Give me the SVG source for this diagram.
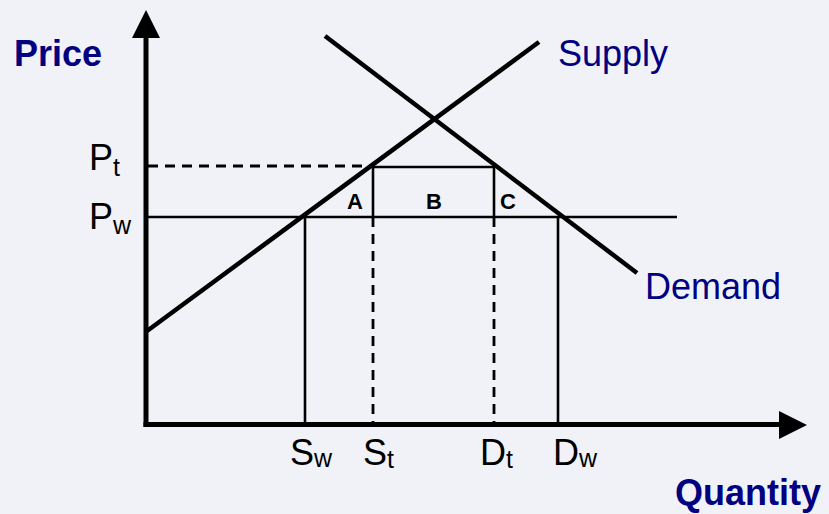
<svg xmlns="http://www.w3.org/2000/svg" width="829" height="514" viewBox="0 0 829 514">
<style>
.axis{stroke:#000;stroke-width:5;fill:none}
.curve{stroke:#000;stroke-width:4.5;fill:none;stroke-linecap:butt}
.thin{stroke:#000;stroke-width:2.6;fill:none}
.dash{stroke:#000;stroke-width:2.8;fill:none;stroke-dasharray:10 7}
.title{font-family:"Liberation Sans",Arial,sans-serif;font-size:36px;font-weight:bold;fill:#000080}
.curvelbl{font-family:"Liberation Sans",Arial,sans-serif;font-size:36px;fill:#000080}
.tick{font-family:"Liberation Sans",Arial,sans-serif;font-size:36px;fill:#000}
.sub{font-size:25px}
.area{font-family:"Liberation Sans",Arial,sans-serif;font-size:22px;font-weight:bold;fill:#000;text-anchor:middle}
</style>
<rect width="829" height="514" fill="#f0f2f8"/>
<g id="connectors">
  <g id="axes">
    <line class="axis" x1="146" y1="36" x2="146" y2="427"/>
    <polygon points="146,10 132,38 160,38" fill="#000"/>
    <line class="axis" x1="143.5" y1="424.5" x2="781" y2="424.5"/>
    <polygon points="807,425 779,411 779,439" fill="#000"/>
  </g>
  <g id="guides">
    <line class="dash" x1="148" y1="166" x2="372" y2="166"/>
    <line class="thin" x1="372" y1="167" x2="494" y2="167"/>
    <line class="thin" x1="148" y1="217" x2="677" y2="217"/>
    <line class="thin" x1="305" y1="217" x2="305" y2="423"/>
    <line class="thin" x1="373" y1="166" x2="373" y2="217"/>
    <line class="dash" x1="373" y1="217" x2="373" y2="423"/>
    <line class="thin" x1="494" y1="166" x2="494" y2="217"/>
    <line class="dash" x1="494" y1="217" x2="494" y2="423"/>
    <line class="thin" x1="558" y1="217" x2="558" y2="423"/>
  </g>
  <line id="supply-line" class="curve" x1="147" y1="331" x2="539" y2="42"/>
  <line id="demand-line" class="curve" x1="325" y1="36" x2="637" y2="273"/>
</g>
<g id="price-label"><text class="title" x="14" y="66">Price</text></g>
<g id="quantity-label"><text class="title" x="675" y="505">Quantity</text></g>
<g id="supply"><text class="curvelbl" x="558" y="66">Supply</text></g>
<g id="demand"><text class="curvelbl" x="645" y="299">Demand</text></g>
<g id="pt"><text class="tick" x="89" y="170">P<tspan class="sub" dy="6">t</tspan></text></g>
<g id="pw"><text class="tick" x="89" y="229">P<tspan class="sub" dy="5">w</tspan></text></g>
<g id="sw"><text class="tick" x="290" y="465">S<tspan class="sub" dy="2">w</tspan></text></g>
<g id="st"><text class="tick" x="363" y="465">S<tspan class="sub" dy="3">t</tspan></text></g>
<g id="dt"><text class="tick" x="480" y="465">D<tspan class="sub" dy="3">t</tspan></text></g>
<g id="dw"><text class="tick" x="553" y="465">D<tspan class="sub" dy="2">w</tspan></text></g>
<g id="area-a"><text class="area" x="355" y="209">A</text></g>
<g id="area-b"><text class="area" x="434" y="209">B</text></g>
<g id="area-c"><text class="area" x="508" y="209">C</text></g>
</svg>
